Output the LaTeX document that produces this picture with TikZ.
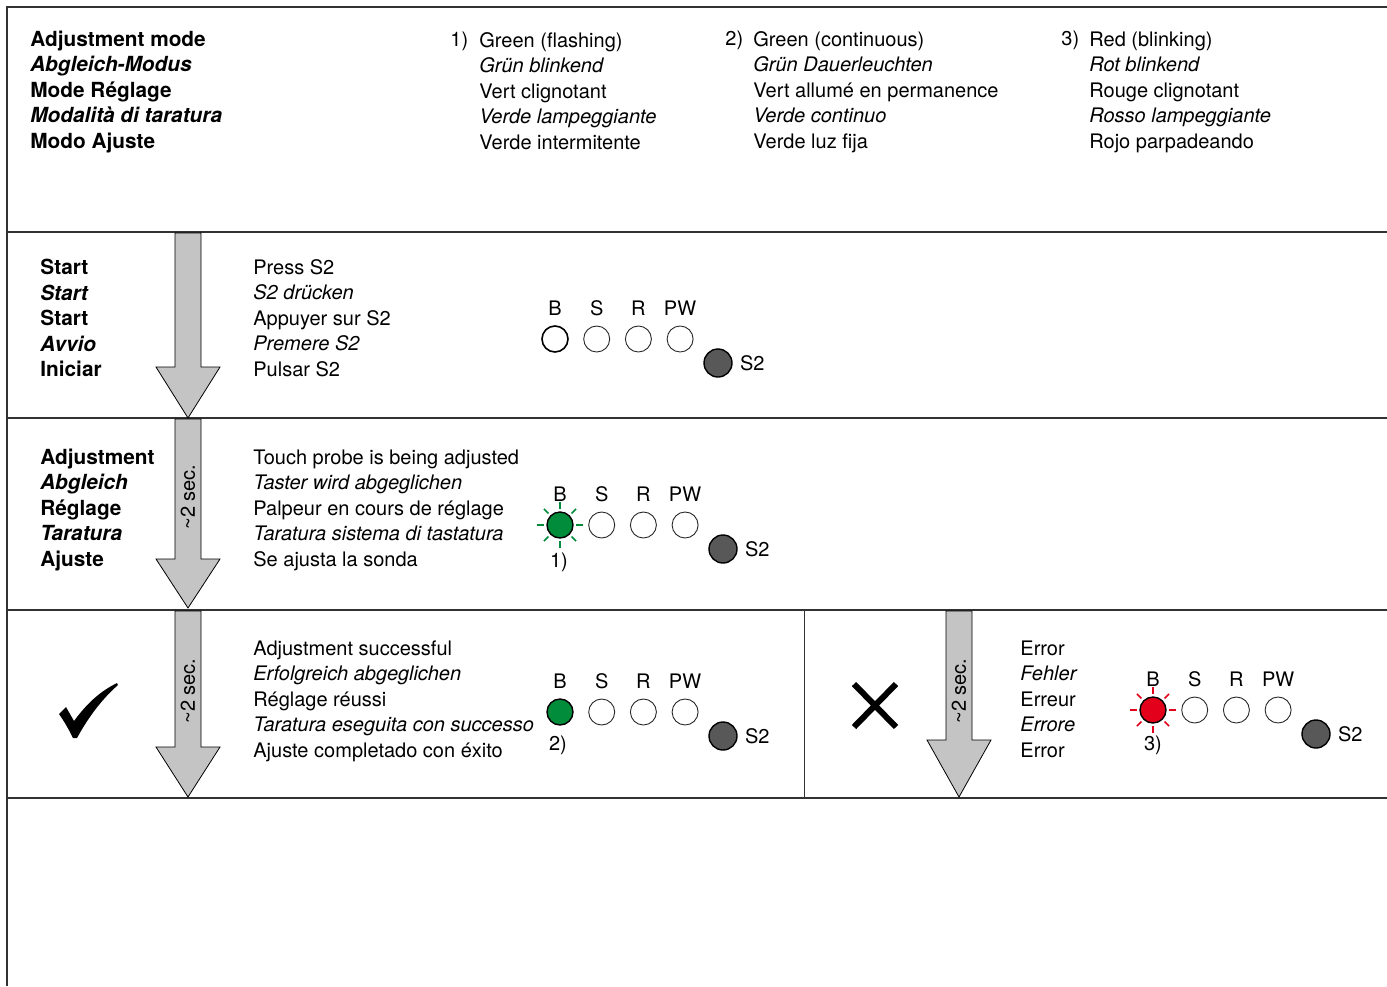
\documentclass[tikz,border=0pt]{standalone}
\usepackage{fontspec}
\setmainfont{TeX Gyre Heros}
\usepackage{xcolor}
\definecolor{framegray}{RGB}{50,50,50}
\definecolor{ledgray}{RGB}{40,40,40}
\definecolor{arrowgray}{RGB}{196,196,196}
\definecolor{btngray}{RGB}{88,88,88}
\definecolor{ledgreen}{RGB}{0,140,58}
\definecolor{ledred}{RGB}{226,0,26}
\usetikzlibrary{positioning}

\tikzset{
  frame/.style={draw=framegray, line width=0.8pt},
  divider/.style={draw=framegray, line width=0.4pt},
  body/.style={font=\fontsize{10}{12.75}\selectfont, align=left, anchor=west, inner sep=0pt},
  heading/.style={font=\fontsize{10.4}{12.75}\selectfont\bfseries, align=left, anchor=west, inner sep=0pt},
  ledlabel/.style={font=\fontsize{10}{12}\selectfont, inner sep=0pt},
  led/.style={circle, draw=ledgray, line width=0.45pt, fill=white, minimum size=13pt, inner sep=0pt},
  button/.style={circle, draw=black, line width=0.7pt, fill=btngray, minimum size=14pt, inner sep=0pt},
  arrowbody/.style={fill=arrowgray, draw=black, line width=0.4pt, line join=miter},
  timer/.style={font=\fontsize{10}{12}\selectfont, rotate=90, inner sep=0pt},
}

% big grey flow arrow: centre x, top, start of head, tip
\newcommand{\flowarrow}[4]{%
  \draw[arrowbody] ({#1-13},#2) -- ({#1+13},#2) -- ({#1+13},#3) -- ({#1+32},#3)
    -- (#1,#4) -- ({#1-32},#3) -- ({#1-13},#3) -- cycle;
}

% LED block: prefix, x of B, y of LEDs, style of B
\newcommand{\ledpanel}[4]{%
  \node[ledlabel] (#1lbl0) at (#2,{#3-31}) {B};
  \node[led, #4] (#1led0) at (#2,#3) {};
  \foreach \lbl [count=\i] in {S,R,PW} {
    \node[ledlabel] (#1lbl\i) at ({#2+41.7*\i},{#3-31}) {\lbl};
    \node[led] (#1led\i) at ({#2+41.7*\i},#3) {};
  }
  \node[button] (#1btn) at ({#2+163},{#3+24}) {};
  \node[ledlabel, right=3.5pt of #1btn] (#1btnlbl) {S2};
}

% short rays round a lit LED
\newcommand{\ledrays}[2]{%
  \foreach \a in {0,45,...,315}
    \draw[#2, line width=0.8pt] (#1.\a) ++(\a:1.3pt) -- ++(\a:3.2pt);
}

\begin{document}
\begin{tikzpicture}[x=0.5pt, y=-0.5pt]
  \useasboundingbox (0,0) rectangle (1387,986);

  % frame and row lines
  \draw[frame] (7,986) -- (7,7) -- (1387,7);
  \foreach \yy in {232,418,610,798}
    \draw[frame] (7,\yy) -- (1387,\yy);
  \draw[divider] (804,610) -- (804,798);

  % header: mode and LED colours
  \node[heading] (modehdr) at (30,92) {Adjustment mode\\\textit{Abgleich-Modus}\\Mode Réglage\\\textit{Modalità di taratura}\\Modo Ajuste};
  \node[body] (num1) at (450,41) {1)};
  \node[body] (col1) at (479,91) {Green (flashing)\\\textit{Grün blinkend}\\Vert clignotant\\\textit{Verde lampeggiante}\\Verde intermitente};
  \node[body] (num2) at (725,40) {2)};
  \node[body] (col2) at (753,92) {Green (continuous)\\\textit{Grün Dauerleuchten}\\Vert allumé en permanence\\\textit{Verde continuo}\\Verde luz fija};
  \node[body] (num3) at (1061,40) {3)};
  \node[body] (col3) at (1089,92) {Red (blinking)\\\textit{Rot blinkend}\\Rouge clignotant\\\textit{Rosso lampeggiante}\\Rojo parpadeando};

  % row 1: start
  \flowarrow{188}{233}{367}{418}
  \node[heading] (starthdr) at (40,318) {Start\\\textit{Start}\\Start\\\textit{Avvio}\\Iniciar};
  \node[body] (starttxt) at (253,318) {Press S2\\\textit{S2 drücken}\\Appuyer sur S2\\\textit{Premere S2}\\Pulsar S2};
  \ledpanel{st}{555}{339}{draw=black, line width=0.8pt}

  % row 2: adjusting
  \flowarrow{188}{419}{559}{608}
  \node[timer] (adjtime) at (188,497) {\textasciitilde2 sec.};
  \node[heading] (adjhdr) at (40,510) {Adjustment\\\textit{Abgleich}\\Réglage\\\textit{Taratura}\\Ajuste};
  \node[body] (adjtxt) at (253,510) {Touch probe is being adjusted\\\textit{Taster wird abgeglichen}\\Palpeur en cours de réglage\\\textit{Taratura sistema di tastatura}\\Se ajusta la sonda};
  \ledpanel{adj}{560}{525}{draw=black, fill=ledgreen, line width=0.7pt}
  \ledrays{adjled0}{ledgreen}
  \node[ledlabel] (adjnum) at (559,562) {1)};

  % row 3: success
  \flowarrow{188}{611}{747}{797}
  \node[timer] (oktime) at (188,691) {\textasciitilde2 sec.};
  \fill (59,714) -- (66,707) -- (74,721) .. controls (88,702) and (101,691) .. (117,683)
    -- (118,685) .. controls (101,700) and (88,718) .. (77,738) -- (73,738)
    .. controls (68,728) and (64,721) .. (59,714) -- cycle;
  \node[body] (oktxt) at (253,701) {Adjustment successful\\\textit{Erfolgreich abgeglichen}\\Réglage réussi\\\textit{Taratura eseguita con successo}\\Ajuste completado con éxito};
  \ledpanel{ok}{560}{712}{draw=black, fill=ledgreen, line width=0.7pt}
  \node[ledlabel] (oknum) at (558,745) {2)};

  % row 3: error
  \flowarrow{959}{611}{740}{797}
  \node[timer] (errtime) at (959,691) {\textasciitilde2 sec.};
  \draw[line width=3pt] (854,684) -- (896,727) (896,684) -- (854,727);
  \node[body] (errtxt) at (1020,699) {Error\\\textit{Fehler}\\Erreur\\\textit{Errore}\\Error};
  \ledpanel{err}{1153}{710}{draw=black, fill=ledred, line width=0.7pt}
  \ledrays{errled0}{ledred}
  \node[ledlabel] (errnum) at (1153,745) {3)};
\end{tikzpicture}
\end{document}
